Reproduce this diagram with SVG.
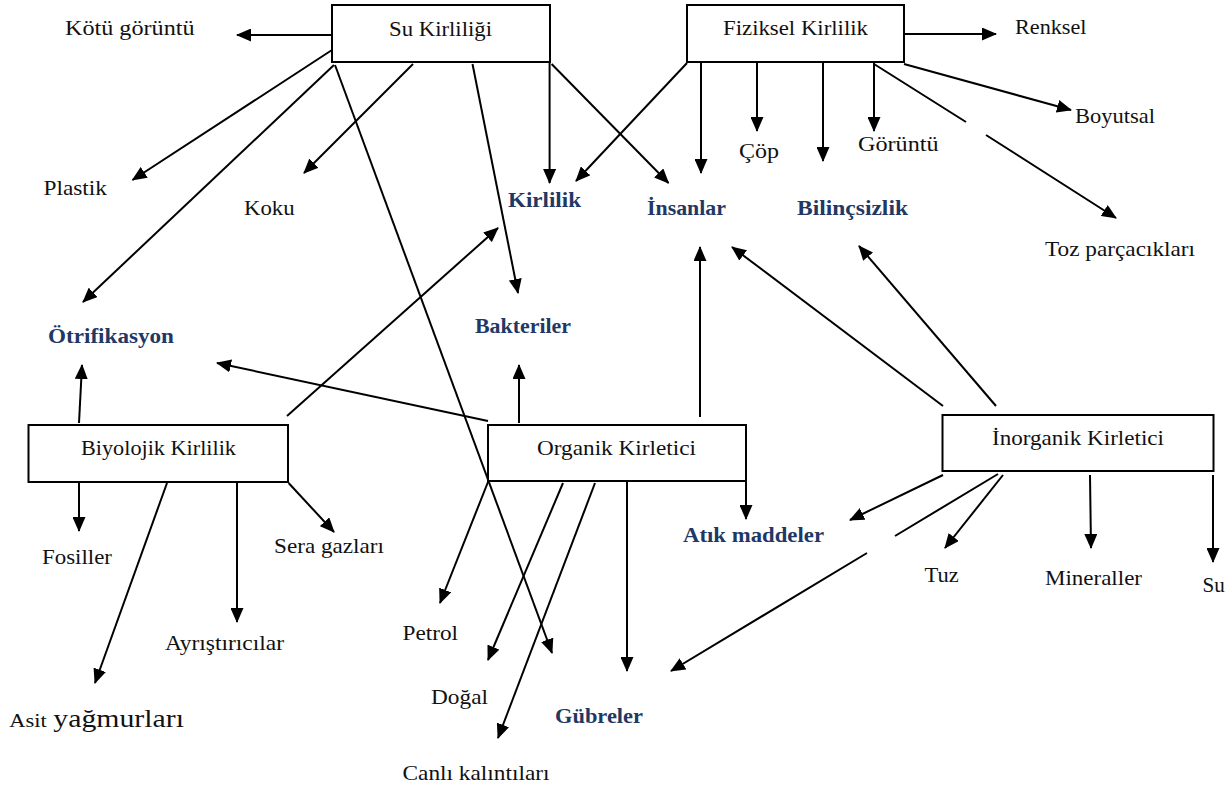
<svg xmlns="http://www.w3.org/2000/svg" width="1232" height="789" viewBox="0 0 1232 789">
<defs>
<style>
.t{font-family:"Liberation Serif","DejaVu Serif","Noto Serif",serif;font-size:21px;fill:#111}
.b{font-family:"Liberation Serif","DejaVu Serif","Noto Serif",serif;font-size:22px;font-weight:bold;fill:#1f3864}
.box{fill:#fff;stroke:#000;stroke-width:2}
.c path{fill:none;stroke:#000;stroke-width:2;marker-end:url(#ah)}
</style>
<marker id="ah" viewBox="0 0 15 13" refX="14" refY="6.5" markerWidth="15" markerHeight="13" markerUnits="userSpaceOnUse" orient="auto">
<path d="M0,0 L15,6.5 L0,13 z" fill="#000"/>
</marker>
</defs>
<rect width="1232" height="789" fill="#fff"/>
<g id="connectors" class="c">
<path d="M332,35 L237,35"/>
<path d="M332,50 L132.5,180"/>
<path d="M334,65 L83,302"/>
<path d="M413,64 L304,173"/>
<path d="M335,65 L552,653"/>
<path d="M472.5,64 L518,293"/>
<path d="M549.6,62 L549.6,183"/>
<path d="M551.6,64 L668.5,183"/>
<path d="M687,63 L576,181"/>
<path d="M701,63 L701,173"/>
<path d="M757,63 L757,131"/>
<path d="M823,63 L823,161"/>
<path d="M874,63 L874,131"/>
<path d="M904,34 L996,34"/>
<path d="M904,64 L1071,110"/>
<path d="M874,64 L966,122 M986,135 L1116,218"/>
<path d="M79,423 L82,365"/>
<path d="M287,416 L498,228"/>
<path d="M488,421 L217,363"/>
<path d="M519,423 L519,365"/>
<path d="M700,417 L700,247"/>
<path d="M943,406 L732,247"/>
<path d="M996,406 L859,246"/>
<path d="M79,483 L79,531"/>
<path d="M167,483 L95,683"/>
<path d="M237,483 L237,622"/>
<path d="M288.6,483 L334,532"/>
<path d="M488,482 L440,603"/>
<path d="M563,483 L488,660"/>
<path d="M595,483 L498,738"/>
<path d="M627,482 L627,671"/>
<path d="M746,481 L746,519"/>
<path d="M943,475 L850,520"/>
<path d="M998,474 L895,536 M867,553 L671,671"/>
<path d="M1003,475 L945,548"/>
<path d="M1090,475 L1091,548"/>
<path d="M1213,475 L1213,562"/>
</g>
<g id="su-kirliligi"><rect class="box" x="332" y="5" width="218" height="57"/><text class="t" x="389" y="36" textLength="103" lengthAdjust="spacingAndGlyphs">Su Kirliliği</text></g>
<g id="fiziksel-kirlilik"><rect class="box" x="687" y="5" width="217" height="57"/><text class="t" x="723" y="35" textLength="145" lengthAdjust="spacingAndGlyphs">Fiziksel Kirlilik</text></g>
<g id="biyolojik-kirlilik"><rect class="box" x="28.5" y="425" width="259.5" height="57"/><text class="t" x="81" y="455" textLength="155" lengthAdjust="spacingAndGlyphs">Biyolojik Kirlilik</text></g>
<g id="organik-kirletici"><rect class="box" x="488" y="425" width="258" height="56"/><text class="t" x="537" y="455" textLength="159" lengthAdjust="spacingAndGlyphs">Organik Kirletici</text></g>
<g id="inorganik-kirletici"><rect class="box" x="942.5" y="415" width="271" height="56"/><text class="t" x="992" y="445" textLength="172" lengthAdjust="spacingAndGlyphs">İnorganik Kirletici</text></g>
<g id="kotu-goruntu"><text class="t" x="65" y="35" textLength="129.5" lengthAdjust="spacingAndGlyphs">Kötü görüntü</text></g>
<g id="renksel"><text class="t" x="1015" y="34" textLength="71.5" lengthAdjust="spacingAndGlyphs">Renksel</text></g>
<g id="plastik"><text class="t" x="43.5" y="195" textLength="63.5" lengthAdjust="spacingAndGlyphs">Plastik</text></g>
<g id="koku"><text class="t" x="244" y="215" textLength="50.6" lengthAdjust="spacingAndGlyphs">Koku</text></g>
<g id="cop"><text class="t" x="739" y="158" textLength="40" lengthAdjust="spacingAndGlyphs">Çöp</text></g>
<g id="goruntu"><text class="t" x="858" y="151" textLength="80.6" lengthAdjust="spacingAndGlyphs">Görüntü</text></g>
<g id="boyutsal"><text class="t" x="1075" y="123" textLength="80" lengthAdjust="spacingAndGlyphs">Boyutsal</text></g>
<g id="toz"><text class="t" x="1045" y="256" textLength="150" lengthAdjust="spacingAndGlyphs">Toz parçacıkları</text></g>
<g id="kirlilik"><text class="b" x="508" y="207" textLength="73" lengthAdjust="spacingAndGlyphs">Kirlilik</text></g>
<g id="insanlar"><text class="b" x="647" y="215" textLength="79" lengthAdjust="spacingAndGlyphs">İnsanlar</text></g>
<g id="bilincsizlik"><text class="b" x="797" y="215" textLength="111" lengthAdjust="spacingAndGlyphs">Bilinçsizlik</text></g>
<g id="otrifikasyon"><text class="b" x="48" y="343" textLength="126" lengthAdjust="spacingAndGlyphs">Ötrifikasyon</text></g>
<g id="bakteriler"><text class="b" x="475" y="333" textLength="96" lengthAdjust="spacingAndGlyphs">Bakteriler</text></g>
<g id="atik"><text class="b" x="683" y="542" textLength="141" lengthAdjust="spacingAndGlyphs">Atık maddeler</text></g>
<g id="gubreler"><text class="b" x="555" y="723" textLength="88" lengthAdjust="spacingAndGlyphs">Gübreler</text></g>
<g id="fosiller"><text class="t" x="42" y="564" textLength="70" lengthAdjust="spacingAndGlyphs">Fosiller</text></g>
<g id="sera"><text class="t" x="274" y="553" textLength="110" lengthAdjust="spacingAndGlyphs">Sera gazları</text></g>
<g id="ayristiricilar"><text class="t" x="165" y="650" textLength="119" lengthAdjust="spacingAndGlyphs">Ayrıştırıcılar</text></g>
<g id="asit"><text class="t" x="9.3" y="727"><tspan font-size="19" textLength="37.4" lengthAdjust="spacingAndGlyphs">Asit</tspan><tspan x="53.3" font-size="26" textLength="130.7" lengthAdjust="spacingAndGlyphs">yağmurları</tspan></text></g>
<g id="petrol"><text class="t" x="402.5" y="640" textLength="55.5" lengthAdjust="spacingAndGlyphs">Petrol</text></g>
<g id="dogal"><text class="t" x="431" y="704" textLength="57" lengthAdjust="spacingAndGlyphs">Doğal</text></g>
<g id="canli"><text class="t" x="402.5" y="780" textLength="147" lengthAdjust="spacingAndGlyphs">Canlı kalıntıları</text></g>
<g id="tuz"><text class="t" x="924.4" y="582" textLength="34.3" lengthAdjust="spacingAndGlyphs">Tuz</text></g>
<g id="mineraller"><text class="t" x="1045" y="585" textLength="97" lengthAdjust="spacingAndGlyphs">Mineraller</text></g>
<g id="su"><text class="t" x="1202.5" y="592" textLength="22.3" lengthAdjust="spacingAndGlyphs">Su</text></g>
</svg>
